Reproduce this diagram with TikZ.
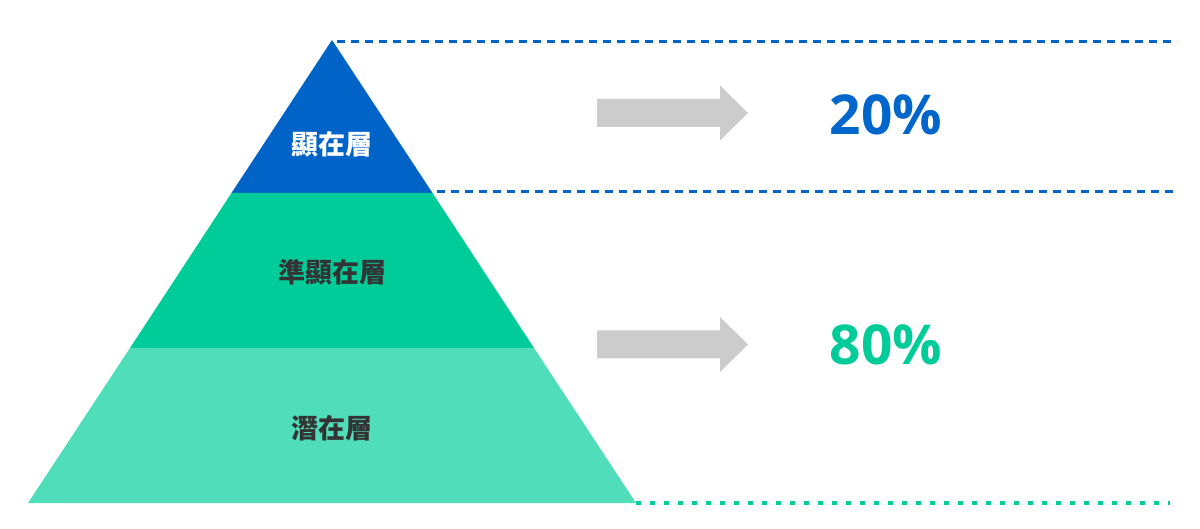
\documentclass[tikz,border=0pt]{standalone}
\usepackage{fontspec}
\setmainfont{Open Sans}
\newfontfamily\cjk{Noto Sans CJK TC}
\usetikzlibrary{calc}
\definecolor{topblue}{RGB}{0,99,200}
\definecolor{midgreen}{RGB}{0,204,153}
\definecolor{lowgreen}{RGB}{80,221,185}
\definecolor{arrowgray}{RGB}{204,204,204}
\definecolor{labelgray}{RGB}{51,51,51}
\definecolor{pctblue}{RGB}{0,102,204}
\tikzset{
  layerlabel/.style={font=\cjk\bfseries\fontsize{27}{30}\selectfont, text=labelgray},
  pctlabel/.style={font=\bfseries\fontsize{55}{60}\selectfont},
  blueline/.style={topblue, line width=3pt, dash pattern=on 8pt off 6pt},
  greenline/.style={midgreen, line width=4.5pt, dash pattern=on 4.5pt off 9.5pt},
}

\begin{document}
\begin{tikzpicture}[x=1pt,y=-1pt]
  \useasboundingbox (0,0) rectangle (1200,529);
  % pyramid corners
  \coordinate (apex) at (332,40);
  \coordinate (upL) at (231.5,193);
  \coordinate (upR) at (432.5,193);
  \coordinate (midL) at (130,348);
  \coordinate (midR) at (534,348);
  \coordinate (baseL) at (28,503);
  \coordinate (baseR) at (636,503);
  \fill[topblue] (apex) -- (upL) -- (upR) -- cycle;
  \fill[midgreen] (upL) -- (midL) -- (midR) -- (upR) -- cycle;
  \fill[lowgreen] (midL) -- (baseL) -- (baseR) -- (midR) -- cycle;
  \node[layerlabel, text=white] (top) at (332,144) {顯在層};
  \node[layerlabel] (middle) at (332,272) {準顯在層};
  \node[layerlabel] (bottom) at (332,428) {潛在層};
  % guide lines
  \coordinate (topend) at (1177,42);
  \coordinate (upend) at (1177,192);
  \coordinate (baseend) at (1170,503);
  \draw[blueline] (337,42) -- (topend);
  \draw[blueline] (437,192) -- (upend);
  \draw[greenline] (baseR) -- (baseend);
  % arrows
  \foreach \y in {113,344.5}
    \fill[arrowgray] (597,\y-14) -- ++(123,0) -- ++(0,-13.5) -- (748,\y)
      -- (720,\y+27.5) -- ++(0,-13.5) -- (597,\y+14) -- cycle;
  \node[pctlabel, text=pctblue] (pct20) at (886,115) {20\%};
  \node[pctlabel, text=midgreen] (pct80) at (886,345) {80\%};
\end{tikzpicture}
\end{document}
